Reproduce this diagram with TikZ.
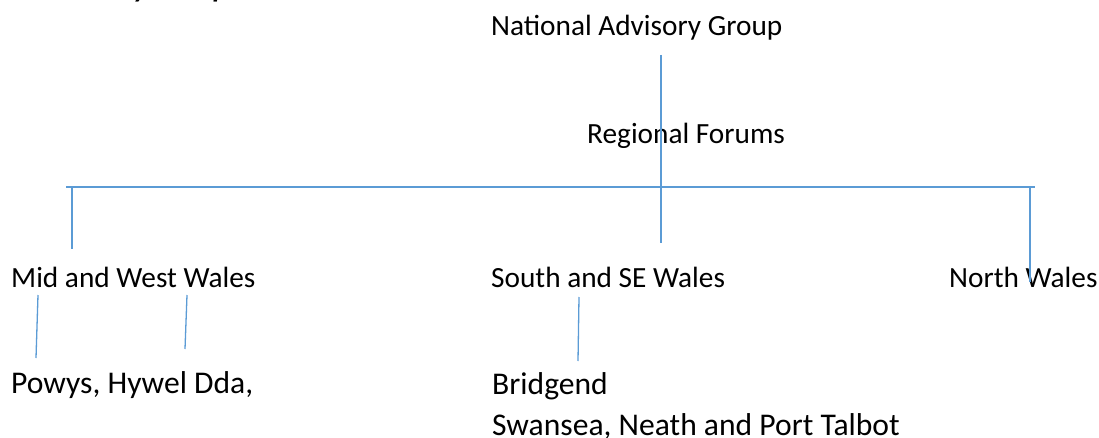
\documentclass[tikz,border=0pt]{standalone}
\usepackage{fontspec}
\setmainfont{Carlito}
\begin{document}
\begin{tikzpicture}[x=1pt,y=-1pt,
  lbl/.style={anchor=base west,inner sep=0pt,font=\fontsize{29.3}{35}\selectfont},
  lblb/.style={anchor=base west,inner sep=0pt,font=\fontsize{31.6}{38}\selectfont},
  link/.style={draw={rgb,255:red,91;green,155;blue,213},line width=1.3pt}]
\useasboundingbox (0,0) rectangle (1099,438);
\clip (0,0) rectangle (1099,438);
% heading, cut off at the top edge
\node[anchor=base west,inner sep=0pt,font=\fontsize{29}{34}\bfseries\itshape\selectfont] (head) at (43,-2) {Advisory Group};
% labels
\node[lbl] (nag) at (491,36) {National Advisory Group};
\node[lbl] (rf) at (587,144) {Regional Forums};
\node[lbl] (mw) at (11,287) {Mid and West Wales};
\node[lbl] (sw) at (491,287) {South and SE Wales};
\node[lbl] (nw) at (949,287) {North Wales};
\node[lblb] (ph) at (11,393) {Powys, Hywel Dda,};
\node[lblb] (bri) at (492,394) {Bridgend};
\node[lblb] (swn) at (492,435) {Swansea, Neath and Port Talbot};
% connector points
\coordinate (top) at (661,55);
\coordinate (hl) at (66,187);
\coordinate (hr) at (1035,187);
\coordinate (hm) at (661,187);
\coordinate (d1a) at (72,187);   \coordinate (d1b) at (72,249);
\coordinate (d2b) at (661,243);
\coordinate (d3a) at (1030,187); \coordinate (d3b) at (1030,282);
\coordinate (p1a) at (38,295);   \coordinate (p1b) at (36,358);
\coordinate (p2a) at (187,295);  \coordinate (p2b) at (185,349);
\coordinate (s1a) at (579,297);  \coordinate (s1b) at (578,361);
% lines
\draw[link] (top) -- (hm);
\draw[link] (hl) -- (hr);
\draw[link] (d1a) -- (d1b);
\draw[link] (hm) -- (d2b);
\draw[link] (d3a) -- (d3b);
\draw[link] (p1a) -- (p1b);
\draw[link] (p2a) -- (p2b);
\draw[link] (s1a) -- (s1b);
\end{tikzpicture}
\end{document}
